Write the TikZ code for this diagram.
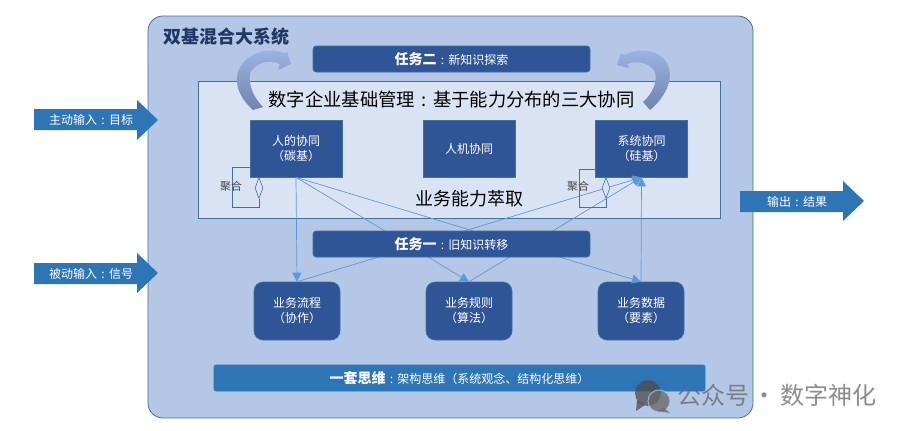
\documentclass[tikz,border=0pt]{standalone}
\usepackage{fontspec}
\setmainfont{Noto Sans CJK SC}
\usetikzlibrary{shapes.geometric,arrows.meta}
\definecolor{outerfill}{HTML}{B4C7E7}
\definecolor{innerfill}{HTML}{DAE3F3}
\definecolor{edgeblue}{HTML}{41719C}
\definecolor{navy}{HTML}{2F5597}
\definecolor{midblue}{HTML}{2E75B6}
\definecolor{linkblue}{HTML}{5B9BD5}
\definecolor{darktext}{HTML}{262626}
\definecolor{titleblue}{HTML}{1F3864}
\definecolor{curvetop}{HTML}{9DB6E4}
\definecolor{curvebot}{HTML}{6F84AE}
\newcommand{\fs}[1]{\fontsize{#1pt}{\dimexpr#1pt*5/4\relax}\selectfont}
\newcommand{\cn}{\makebox[1em][c]{:}}
\tikzset{
  x=1pt,y=-1pt,
  box/.style={draw=edgeblue,line width=0.6pt,fill=navy,text=white,inner sep=0pt,align=center,font=\fs{12}},
  sqbox/.style={box,minimum width=92pt,minimum height=57pt},
  roundbox/.style={box,rounded corners=9pt,minimum width=86pt,minimum height=58pt},
  taskbox/.style={box,rounded corners=3pt,minimum width=277pt,minimum height=26pt},
  bigarrow/.style={fill=midblue},
  arrowlabel/.style={text=white,font=\fs{12},inner sep=0pt},
  link/.style={draw=linkblue,line width=0.7pt,-{Triangle[length=9pt,width=9pt]}},
  agg/.style={draw=edgeblue,line width=0.7pt},
  aggd/.style={draw=edgeblue,fill=innerfill,line width=0.6pt,diamond,aspect=0.4,minimum width=8pt,minimum height=21pt,inner sep=0pt},
  agglabel/.style={text=darktext!85,font=\fs{11},inner sep=0pt},
  heading/.style={text=black,font=\fs{18},inner sep=0pt},
  curved/.style={top color=curvetop,bottom color=curvebot,draw=none},
}
\begin{document}
\begin{tikzpicture}
\useasboundingbox (0,0) rectangle (906,431);
\fill[white] (0,0) rectangle (906,431);
% containers
\node[draw=edgeblue,line width=0.8pt,fill=outerfill,rounded corners=15pt,minimum width=605pt,minimum height=402pt,inner sep=0pt] (outer) at (450.5,217) {};
\node[draw=edgeblue,line width=0.7pt,fill=innerfill,minimum width=522pt,minimum height=137pt,inner sep=0pt] (inner) at (459,149.5) {};
\node[text=titleblue,font=\fs{18}\bfseries,inner sep=0pt] (title) at (226.5,37) {双基混合大系统};
% io arrows
\fill[bigarrow] (34,109) -- (137,109) -- (137,100) -- (158,120) -- (137,140) -- (137,130) -- (34,130) -- cycle;
\fill[bigarrow] (34,263) -- (137,263) -- (137,253) -- (158,273) -- (137,293) -- (137,284) -- (34,284) -- cycle;
\fill[bigarrow] (740,191) -- (843,191) -- (843,181) -- (864,201) -- (843,221) -- (843,212) -- (740,212) -- cycle;
\node[arrowlabel] (in1) at (91,119.5) {主动输入\cn 目标};
\node[arrowlabel] (in2) at (91,273.5) {被动输入\cn 信号};
\node[arrowlabel] (out1) at (797,201.5) {输出\cn 结果};
% headings
\node[heading,font=\fs{18.3}] (head) at (451.5,99) {数字企业基础管理\cn 基于能力分布的三大协同};
\node[heading] (extract) at (469,199) {业务能力萃取};
% upper boxes
\node[sqbox] (hc) at (296,148.5) {人的协同\\（碳基）};
\node[sqbox] (hm) at (469,148.5) {人机协同};
\node[sqbox] (sc) at (641.5,148.5) {系统协同\\（硅基）};
% lower boxes
\node[roundbox] (bp) at (297,311) {业务流程\\（协作）};
\node[roundbox] (br) at (469,311) {业务规则\\（算法）};
\node[roundbox] (bd) at (641,311) {业务数据\\（要素）};
% links
\draw[link] (hc.south) -- (bp.north);
\draw[link] (hc.south) -- (br.north);
\draw[link] (hc.south) -- (bd.north);
\draw[link] (bp.north) -- (sc.south);
\draw[link] (br.north) -- (sc.south);
\draw[link] (bd.north) -- (sc.south);
% aggregation
\coordinate (a1) at (232,167);
\coordinate (a2) at (232,207);
\coordinate (a3) at (259,207);
\node[aggd] (d1) at (259,188) {};
\draw[agg] (hc.west |- a1) -- (a1) -- (a2) -- (a3) -- (d1.south);
\coordinate (b1) at (579,169);
\coordinate (b2) at (579,207);
\coordinate (b3) at (606,207);
\node[aggd] (d2) at (606,188) {};
\draw[agg] (sc.west |- b1) -- (b1) -- (b2) -- (b3) -- (d2.south);
\node[agglabel] (l1) at (231,186) {聚合};
\node[agglabel] (l2) at (578,186) {聚合};
% tasks
\node[taskbox] (t2) at (451.5,59) {{\bfseries\fs{14}任务二}\cn 新知识探索};
\node[taskbox] (t1) at (451.5,244) {{\bfseries\fs{14}任务一}\cn 旧知识转移};
\node[box,draw=midblue,fill=midblue,rounded corners=2pt,minimum width=491pt,minimum height=26pt] (bar) at (459.5,378) {{\bfseries\fs{14}一套思维}\cn 架构思维（系统观念、结构化思维）};
% curved arrows
\shade[curved]
  (253,110) .. controls (236,95) and (232,76) .. (243,63)
  .. controls (252,52) and (270,47) .. (284,53)
  -- (287,52) -- (291,64) -- (278,70) -- (280,64)
  .. controls (268,59) and (255,63) .. (250,73)
  .. controls (248,85) and (254,98) .. (263,107) -- cycle;
\shade[curved]
  (650,110) .. controls (668,95) and (674,76) .. (667,63)
  .. controls (660,50) and (640,47) .. (624,55)
  -- (621,53) -- (617,65) -- (629,68) -- (627,64)
  .. controls (638,60) and (650,63) .. (655,72)
  .. controls (658,82) and (652,94) .. (643,102) -- cycle;
% watermark
\begin{scope}[opacity=0.75]
\fill[black!70] (648,393) circle (13pt);
\fill[black!70] (637,400) -- (636,411) -- (645,405) -- cycle;
\fill[black!60,draw=outerfill,line width=1pt] (659,401) circle (11pt);
\fill[black!60] (664,408) -- (670,413) -- (657,411) -- cycle;
\node[text=black!60,font=\fs{24},inner sep=0pt,anchor=west] (wm) at (677,395) {公众号\makebox[31pt][c]{·}数字神化};
\end{scope}
\end{tikzpicture}
\end{document}
